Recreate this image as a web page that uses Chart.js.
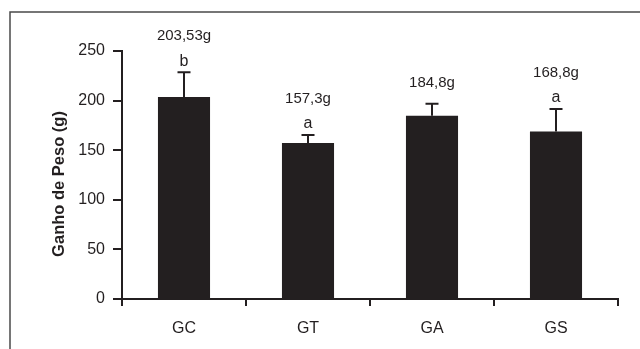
<!DOCTYPE html>
<html>
<head>
<meta charset="utf-8">
<script src="https://cdn.jsdelivr.net/npm/chart.js@4"></script>
<style>
  html, body { margin: 0; padding: 0; background: #fff; }
  #wrap { width: 640px; height: 349px; }
</style>
</head>
<body>
<div id="wrap"><canvas id="chart" width="640" height="349"></canvas></div>
<script>
const groups = ['GC', 'GT', 'GA', 'GS'];
const ganho = [203.53, 157.3, 184.8, 168.8];
const erro = [25, 8, 12, 22.7];
const rotulos = ['203,53g', '157,3g', '184,8g', '168,8g'];
const letras = ['b', 'a', '', 'a'];
const yTicks = [0, 50, 100, 150, 200, 250];

const ink = '#231f20';
const fontFam = '"Liberation Sans", Arial, sans-serif';

// error bars + labels above them, plus frame and y title
const extras = {
  id: 'extras',
  afterDatasetsDraw(chart) {
    const ctx = chart.ctx;
    const y = chart.scales.y;
    const bars = chart.getDatasetMeta(0).data;
    ctx.save();
    ctx.strokeStyle = ink;
    ctx.fillStyle = ink;
    ctx.lineWidth = 2;
    bars.forEach((bar, i) => {
      const top = y.getPixelForValue(ganho[i] + erro[i]);
      ctx.beginPath();
      ctx.moveTo(bar.x, bar.y);
      ctx.lineTo(bar.x, top);
      ctx.moveTo(bar.x - 6.5, top);
      ctx.lineTo(bar.x + 6.5, top);
      ctx.stroke();

      ctx.textAlign = 'center';
      ctx.textBaseline = 'middle';
      let labelY = top - 21;
      if (letras[i]) {
        ctx.font = '16px ' + fontFam;
        ctx.fillText(letras[i], bar.x, top - 11);
        labelY = top - 36;
      }
      ctx.font = '15px ' + fontFam;
      ctx.fillText(rotulos[i], bar.x, labelY);
    });

    // frame
    ctx.strokeStyle = '#4a4a4a';
    ctx.lineWidth = 1.5;
    ctx.beginPath();
    ctx.moveTo(10, 349);
    ctx.lineTo(10, 12);
    ctx.lineTo(640, 12);
    ctx.stroke();

    // y title
    ctx.translate(59, 184);
    ctx.rotate(-Math.PI / 2);
    ctx.font = 'bold 16.5px ' + fontFam;
    ctx.fillText('Ganho de Peso (g)', 0, 0);
    ctx.restore();
  }
};

new Chart(document.getElementById('chart'), {
  type: 'bar',
  data: {
    labels: groups,
    datasets: [{
      data: ganho,
      backgroundColor: ink,
      borderWidth: 0,
      barPercentage: 0.42,
      categoryPercentage: 1
    }]
  },
  options: {
    responsive: false,
    animation: false,
    layout: { padding: { left: 50, right: 22, top: 51, bottom: 0 } },
    plugins: { legend: { display: false }, tooltip: { enabled: false } },
    scales: {
      x: {
        afterFit: s => { s.height = 50; },
        grid: { drawOnChartArea: false, tickLength: 7, color: ink, lineWidth: 2 },
        border: { color: ink, width: 2 },
        ticks: { color: ink, font: { family: fontFam, size: 16 }, padding: 13 }
      },
      y: {
        min: 0,
        max: 250,
        afterFit: s => { s.width = 72; },
        afterBuildTicks: s => { s.ticks = yTicks.map(v => ({ value: v })); },
        grid: { drawOnChartArea: false, tickLength: 9, color: ink, lineWidth: 2 },
        border: { color: ink, width: 2 },
        ticks: { color: ink, font: { family: fontFam, size: 16 }, padding: 8 }
      }
    }
  },
  plugins: [extras]
});
</script>
</body>
</html>
